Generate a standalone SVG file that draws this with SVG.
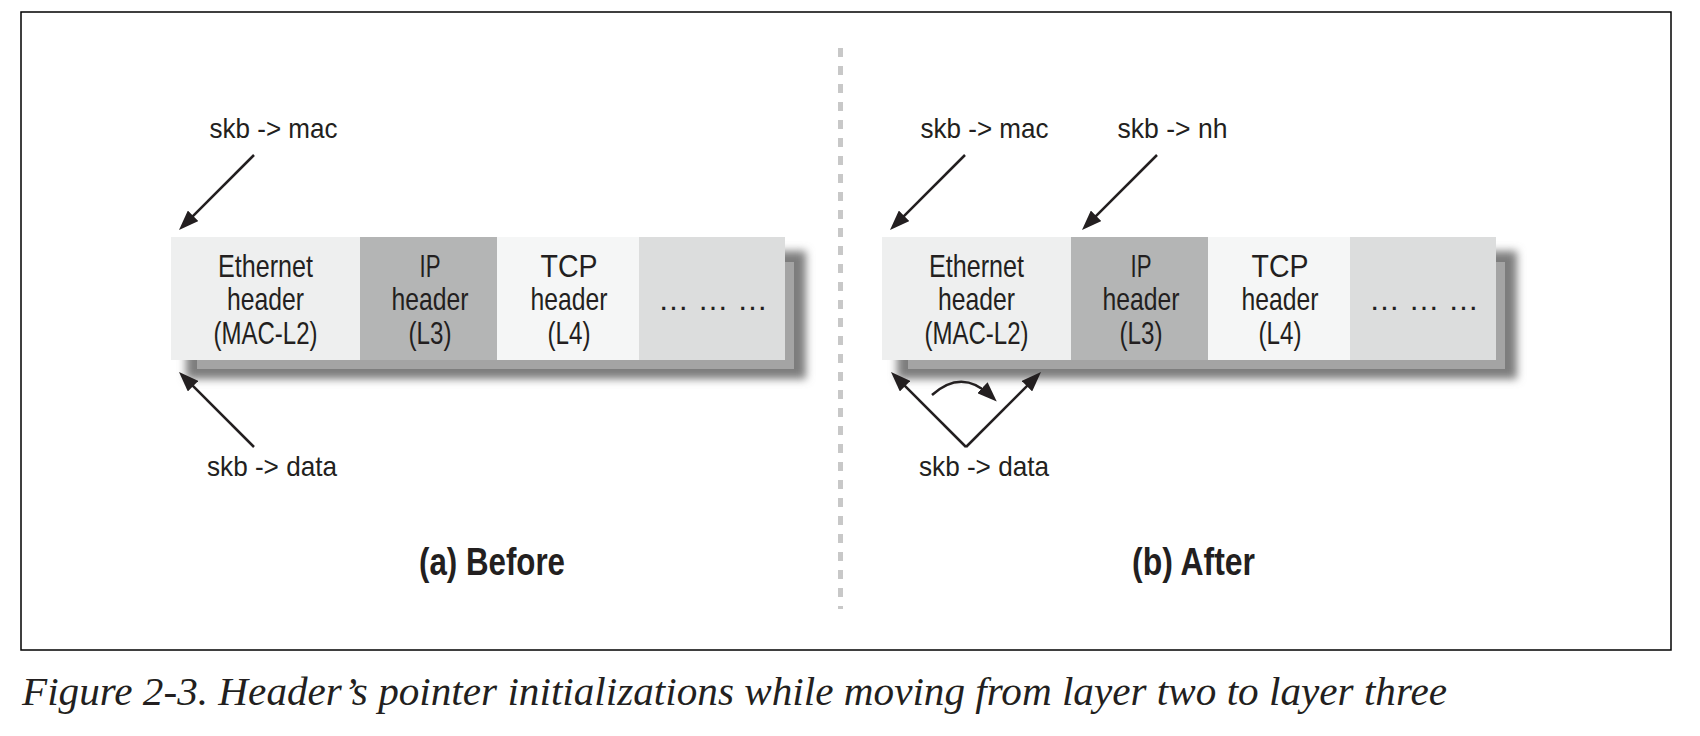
<svg xmlns="http://www.w3.org/2000/svg" width="1700" height="736" viewBox="0 0 1700 736">
<style>
  .cell-text { font-family: "Liberation Sans", Arial, sans-serif; font-size: 32px; fill: #231f20; text-anchor: middle; }
  .ptr { font-family: "Liberation Sans", Arial, sans-serif; font-size: 28px; fill: #231f20; text-anchor: middle; }
  .title { font-family: "Liberation Sans", Arial, sans-serif; font-size: 38px; font-weight: bold; fill: #231f20; text-anchor: middle; }
  .caption { font-family: "Liberation Serif", "Times New Roman", serif; font-style: italic; font-size: 40px; fill: #231f20; }
  .conn { stroke: #231f20; stroke-width: 2.5; fill: none; marker-end: url(#ah); }
  .eth { fill: #eeefef; }
  .ip { fill: #b4b5b5; }
  .tcp { fill: #f5f6f6; }
  .dots { fill: #dcdddd; }
  .sh-outer { fill: #7d7d7d; filter: url(#blur); }
  .sh-inner { fill: #a4a4a4; }
</style>
<defs>
  <marker id="ah" markerUnits="userSpaceOnUse" markerWidth="20" markerHeight="15" viewBox="0 0 20 15" refX="12" refY="7.5" orient="auto">
    <path d="M0,0 L20,7.5 L0,15 Z" fill="#231f20"/>
  </marker>
  <filter id="blur" x="-10%" y="-30%" width="120%" height="160%">
    <feGaussianBlur stdDeviation="4"/>
  </filter>
</defs>
<rect x="0" y="0" width="1700" height="736" fill="#ffffff"/>
<rect x="21" y="12" width="1650" height="638" fill="none" stroke="#000" stroke-width="1.5"/>
<line x1="840.5" y1="48" x2="840.5" y2="609" stroke="#c8c8c8" stroke-width="5" stroke-dasharray="9 9"/>

<!-- (a) Before -->
<g id="packet-before">
  <rect class="sh-outer" x="186" y="251" width="620" height="128"/>
  <rect class="sh-inner" x="197" y="262" width="597" height="107"/>
  <g id="before-eth">
    <rect class="eth" x="171" y="237" width="190" height="123"/>
    <text class="cell-text" x="265.5" y="277" textLength="95" lengthAdjust="spacingAndGlyphs">Ethernet</text>
    <text class="cell-text" x="265.5" y="310" textLength="77" lengthAdjust="spacingAndGlyphs">header</text>
    <text class="cell-text" x="265.5" y="344" textLength="104" lengthAdjust="spacingAndGlyphs">(MAC-L2)</text>
  </g>
  <g id="before-ip">
    <rect class="ip" x="360" y="237" width="138" height="123"/>
    <text class="cell-text" x="430" y="277" textLength="21" lengthAdjust="spacingAndGlyphs">IP</text>
    <text class="cell-text" x="430" y="310" textLength="77" lengthAdjust="spacingAndGlyphs">header</text>
    <text class="cell-text" x="430" y="344" textLength="43" lengthAdjust="spacingAndGlyphs">(L3)</text>
  </g>
  <g id="before-tcp">
    <rect class="tcp" x="497" y="237" width="143" height="123"/>
    <text class="cell-text" x="569" y="277" textLength="57" lengthAdjust="spacingAndGlyphs">TCP</text>
    <text class="cell-text" x="569" y="310" textLength="77" lengthAdjust="spacingAndGlyphs">header</text>
    <text class="cell-text" x="569" y="344" textLength="43" lengthAdjust="spacingAndGlyphs">(L4)</text>
  </g>
  <g id="before-rest">
    <rect class="dots" x="639" y="237" width="146" height="123"/>
    <text class="cell-text" x="713" y="310" textLength="110" lengthAdjust="spacingAndGlyphs">… … …</text>
  </g>
</g>
<g id="before-mac-label"><text class="ptr" x="273.5" y="138" textLength="128" lengthAdjust="spacingAndGlyphs">skb -&gt; mac</text></g>
<g id="before-data-label"><text class="ptr" x="272" y="476" textLength="130" lengthAdjust="spacingAndGlyphs">skb -&gt; data</text></g>
<g id="before-title"><text class="title" x="492" y="575" textLength="146" lengthAdjust="spacingAndGlyphs">(a) Before</text></g>

<!-- (b) After -->
<g id="packet-after">
  <rect class="sh-outer" x="897" y="251" width="620" height="128"/>
  <rect class="sh-inner" x="908" y="262" width="597" height="107"/>
  <g id="after-eth">
    <rect class="eth" x="882" y="237" width="190" height="123"/>
    <text class="cell-text" x="976.5" y="277" textLength="95" lengthAdjust="spacingAndGlyphs">Ethernet</text>
    <text class="cell-text" x="976.5" y="310" textLength="77" lengthAdjust="spacingAndGlyphs">header</text>
    <text class="cell-text" x="976.5" y="344" textLength="104" lengthAdjust="spacingAndGlyphs">(MAC-L2)</text>
  </g>
  <g id="after-ip">
    <rect class="ip" x="1071" y="237" width="138" height="123"/>
    <text class="cell-text" x="1141" y="277" textLength="21" lengthAdjust="spacingAndGlyphs">IP</text>
    <text class="cell-text" x="1141" y="310" textLength="77" lengthAdjust="spacingAndGlyphs">header</text>
    <text class="cell-text" x="1141" y="344" textLength="43" lengthAdjust="spacingAndGlyphs">(L3)</text>
  </g>
  <g id="after-tcp">
    <rect class="tcp" x="1208" y="237" width="143" height="123"/>
    <text class="cell-text" x="1280" y="277" textLength="57" lengthAdjust="spacingAndGlyphs">TCP</text>
    <text class="cell-text" x="1280" y="310" textLength="77" lengthAdjust="spacingAndGlyphs">header</text>
    <text class="cell-text" x="1280" y="344" textLength="43" lengthAdjust="spacingAndGlyphs">(L4)</text>
  </g>
  <g id="after-rest">
    <rect class="dots" x="1350" y="237" width="146" height="123"/>
    <text class="cell-text" x="1424" y="310" textLength="110" lengthAdjust="spacingAndGlyphs">… … …</text>
  </g>
</g>
<g id="after-mac-label"><text class="ptr" x="984.5" y="138" textLength="128" lengthAdjust="spacingAndGlyphs">skb -&gt; mac</text></g>
<g id="after-nh-label"><text class="ptr" x="1172.5" y="138" textLength="110" lengthAdjust="spacingAndGlyphs">skb -&gt; nh</text></g>
<g id="after-data-label"><text class="ptr" x="984" y="476" textLength="130" lengthAdjust="spacingAndGlyphs">skb -&gt; data</text></g>
<g id="after-title"><text class="title" x="1193.5" y="575" textLength="123" lengthAdjust="spacingAndGlyphs">(b) After</text></g>

<g id="connectors">
  <line class="conn" x1="254" y1="155" x2="184.66" y2="224.34"/>
  <line class="conn" x1="254" y1="447" x2="184.66" y2="377.66"/>
  <line class="conn" x1="965" y1="155" x2="895.66" y2="224.34"/>
  <line class="conn" x1="1157" y1="155" x2="1087.66" y2="224.34"/>
  <line class="conn" x1="966" y1="447" x2="896.66" y2="377.66"/>
  <line class="conn" x1="966" y1="447" x2="1035.34" y2="377.66"/>
  <path class="conn" d="M932,395 Q962,368 991,396"/>
</g>

<g id="caption"><text class="caption" x="22" y="705" textLength="1425" lengthAdjust="spacingAndGlyphs">Figure 2-3. Header’s pointer initializations while moving from layer two to layer three</text></g>
</svg>
